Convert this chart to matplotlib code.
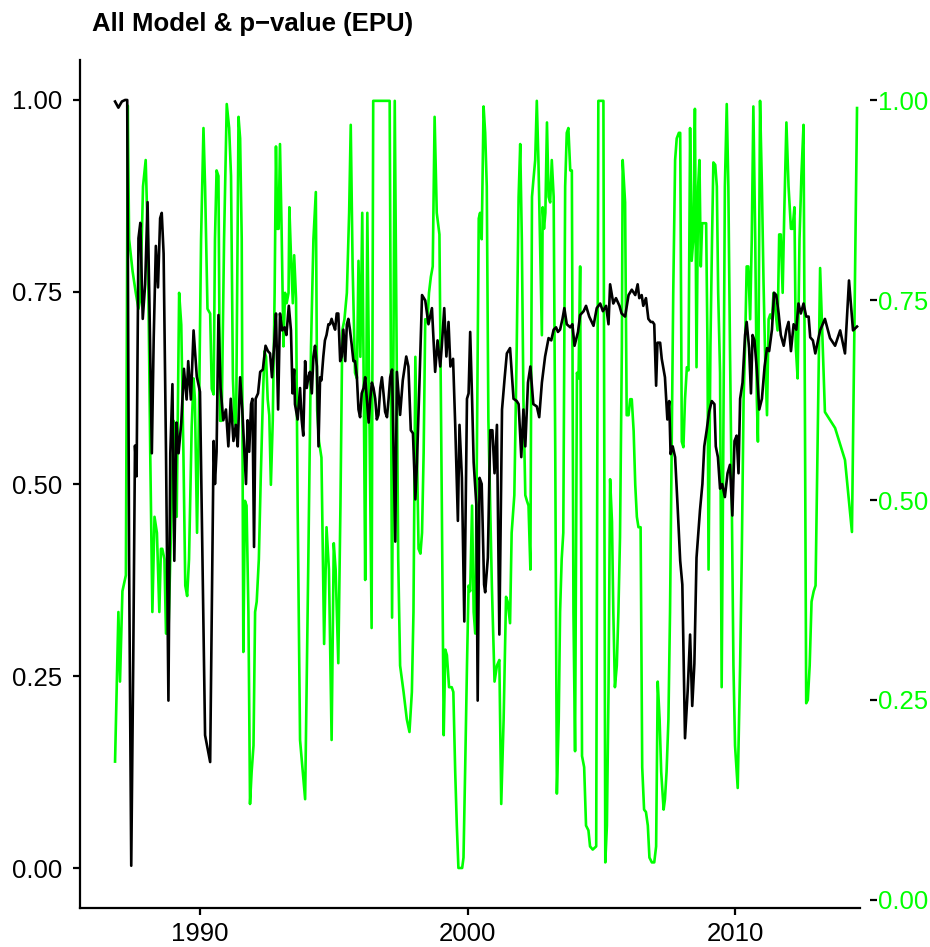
import matplotlib
matplotlib.use("Agg")
import matplotlib.pyplot as plt

# black line: model (left axis)
model_year = [
    1986.825, 1986.95, 1987.08, 1987.20, 1987.28, 1987.35, 1987.43, 1987.505, 1987.57, 1987.63,
    1987.70, 1987.77, 1987.86, 1987.95, 1988.04, 1988.11, 1988.20, 1988.27, 1988.35, 1988.43,
    1988.51, 1988.57, 1988.64, 1988.73, 1988.82, 1988.89, 1988.97, 1989.04, 1989.12, 1989.20,
    1989.30, 1989.40, 1989.50, 1989.56, 1989.66, 1989.76, 1989.88, 1990.00, 1990.19, 1990.38,
    1990.51, 1990.56, 1990.62, 1990.69, 1990.77, 1990.87, 1990.97, 1991.06, 1991.15, 1991.25,
    1991.34, 1991.41, 1991.50, 1991.58, 1991.66, 1991.72, 1991.78, 1991.84, 1991.91, 1991.96,
    1992.02, 1992.08, 1992.17, 1992.25, 1992.35, 1992.45, 1992.54, 1992.62, 1992.69, 1992.77,
    1992.84, 1992.92, 1992.99, 1993.07, 1993.16, 1993.23, 1993.32, 1993.40, 1993.46, 1993.52,
    1993.55, 1993.65, 1993.74, 1993.80, 1993.86, 1993.93, 1993.99, 1994.05, 1994.11, 1994.18,
    1994.24, 1994.30, 1994.37, 1994.43, 1994.49, 1994.54, 1994.61, 1994.67, 1994.73, 1994.80,
    1994.86, 1994.92, 1994.98, 1995.05, 1995.11, 1995.17, 1995.24, 1995.30, 1995.36, 1995.43,
    1995.49, 1995.545, 1995.605, 1995.675, 1995.735, 1995.795, 1995.865, 1995.925, 1995.985, 1996.045,
    1996.115, 1996.175, 1996.235, 1996.305, 1996.365, 1996.425, 1996.485, 1996.55, 1996.61, 1996.67,
    1996.74, 1996.80, 1996.86, 1996.92, 1996.99, 1997.05, 1997.11, 1997.18, 1997.30, 1997.36,
    1997.48, 1997.58, 1997.71, 1997.79, 1997.88, 1997.96, 1998.05, 1998.11, 1998.21, 1998.30,
    1998.42, 1998.54, 1998.67, 1998.79, 1998.88, 1998.98, 1999.04, 1999.13, 1999.21, 1999.29,
    1999.36, 1999.46, 1999.54, 1999.64, 1999.70, 1999.79, 1999.88, 1999.98, 2000.04, 2000.10,
    2000.17, 2000.23, 2000.33, 2000.38, 2000.45, 2000.53, 2000.62, 2000.66, 2000.76, 2000.85,
    2000.93, 2001.01, 2001.10, 2001.19, 2001.29, 2001.39, 2001.47, 2001.59, 2001.72, 2001.84,
    2001.91, 2002.01, 2002.09, 2002.16, 2002.26, 2002.35, 2002.46, 2002.59, 2002.68, 2002.78,
    2002.90, 2003.03, 2003.13, 2003.22, 2003.31, 2003.38, 2003.46, 2003.55, 2003.62, 2003.71,
    2003.84, 2003.92, 2004.00, 2004.05, 2004.13, 2004.21, 2004.34, 2004.43, 2004.55, 2004.71,
    2004.83, 2004.96, 2005.06, 2005.18, 2005.27, 2005.33, 2005.45, 2005.55, 2005.68, 2005.76,
    2005.89, 2006.02, 2006.14, 2006.27, 2006.36, 2006.42, 2006.51, 2006.57, 2006.67, 2006.76,
    2006.85, 2006.92, 2006.98, 2007.05, 2007.10, 2007.20, 2007.26, 2007.33, 2007.38, 2007.47,
    2007.54, 2007.59, 2007.67, 2007.76, 2007.85, 2007.95, 2008.03, 2008.13, 2008.23, 2008.32,
    2008.40, 2008.48, 2008.56, 2008.69, 2008.78, 2008.85, 2008.94, 2009.03, 2009.13, 2009.23,
    2009.28, 2009.36, 2009.44, 2009.52, 2009.62, 2009.72, 2009.81, 2009.90, 2009.98, 2010.06,
    2010.13, 2010.19, 2010.28, 2010.375, 2010.435, 2010.525, 2010.595, 2010.655, 2010.725, 2010.815,
    2010.905, 2011.005, 2011.105, 2011.195, 2011.275, 2011.38, 2011.46, 2011.54, 2011.63, 2011.71,
    2011.82, 2011.92, 2012.00, 2012.09, 2012.19, 2012.29, 2012.37, 2012.46, 2012.56, 2012.66,
    2012.75, 2012.81, 2012.91, 2013.00, 2013.18, 2013.36, 2013.55, 2013.74, 2013.93, 2014.11,
    2014.26, 2014.41, 2014.56,
]
model_val = [
    0.998, 0.99, 0.998, 1.0, 1.0, 0.40, 0.003, 0.27, 0.55, 0.51,
    0.82, 0.84, 0.715, 0.76, 0.867, 0.735, 0.54, 0.69, 0.81, 0.756,
    0.846, 0.853, 0.80, 0.54, 0.218, 0.54, 0.63, 0.40, 0.58, 0.54,
    0.58, 0.65, 0.61, 0.66, 0.61, 0.70, 0.64, 0.62, 0.173, 0.138,
    0.556, 0.50, 0.542, 0.72, 0.625, 0.583, 0.597, 0.549, 0.611, 0.556,
    0.577, 0.549, 0.639, 0.597, 0.542, 0.50, 0.583, 0.542, 0.604, 0.611,
    0.418, 0.611, 0.618, 0.646, 0.649, 0.68, 0.673, 0.67, 0.639, 0.68,
    0.722, 0.597, 0.722, 0.70, 0.704, 0.694, 0.732, 0.70, 0.618, 0.649,
    0.604, 0.584, 0.625, 0.584, 0.563, 0.66, 0.625, 0.639, 0.646, 0.618,
    0.666, 0.68, 0.653, 0.549, 0.639, 0.635, 0.666, 0.687, 0.694, 0.708,
    0.708, 0.715, 0.708, 0.701, 0.722, 0.722, 0.66, 0.666, 0.701, 0.66,
    0.708, 0.715, 0.701, 0.68, 0.66, 0.66, 0.639, 0.597, 0.587, 0.618,
    0.625, 0.639, 0.611, 0.58, 0.611, 0.632, 0.625, 0.611, 0.584, 0.59,
    0.625, 0.639, 0.618, 0.594, 0.587, 0.611, 0.639, 0.649, 0.425, 0.646,
    0.59, 0.635, 0.666, 0.653, 0.57, 0.566, 0.48, 0.528, 0.639, 0.746,
    0.739, 0.708, 0.729, 0.646, 0.687, 0.653, 0.68, 0.729, 0.666, 0.711,
    0.653, 0.663, 0.577, 0.452, 0.577, 0.508, 0.321, 0.611, 0.618, 0.698,
    0.611, 0.528, 0.473, 0.218, 0.508, 0.50, 0.369, 0.359, 0.404, 0.57,
    0.57, 0.514, 0.577, 0.304, 0.597, 0.639, 0.67, 0.677, 0.611, 0.608,
    0.604, 0.535, 0.597, 0.549, 0.632, 0.653, 0.604, 0.601, 0.587, 0.632,
    0.666, 0.69, 0.687, 0.701, 0.704, 0.698, 0.701, 0.715, 0.729, 0.708,
    0.704, 0.708, 0.68, 0.687, 0.698, 0.72, 0.725, 0.732, 0.718, 0.706,
    0.729, 0.735, 0.725, 0.732, 0.708, 0.76, 0.735, 0.742, 0.732, 0.722,
    0.718, 0.746, 0.753, 0.746, 0.76, 0.742, 0.746, 0.732, 0.742, 0.715,
    0.711, 0.711, 0.708, 0.628, 0.684, 0.684, 0.663, 0.649, 0.639, 0.584,
    0.608, 0.539, 0.549, 0.535, 0.473, 0.40, 0.369, 0.169, 0.231, 0.304,
    0.211, 0.266, 0.404, 0.466, 0.50, 0.549, 0.57, 0.594, 0.608, 0.604,
    0.549, 0.535, 0.494, 0.50, 0.483, 0.514, 0.525, 0.459, 0.556, 0.563,
    0.514, 0.611, 0.632, 0.694, 0.711, 0.677, 0.618, 0.694, 0.687, 0.649,
    0.597, 0.611, 0.653, 0.677, 0.673, 0.701, 0.749, 0.746, 0.722, 0.694,
    0.68, 0.701, 0.711, 0.673, 0.708, 0.701, 0.735, 0.722, 0.735, 0.718,
    0.718, 0.691, 0.687, 0.67, 0.70, 0.715, 0.69, 0.68, 0.70, 0.67,
    0.765, 0.70, 0.705,
]

# green line: p-value (right axis)
pval_year = [
    1986.825, 1986.95, 1987.01, 1987.10, 1987.23, 1987.30, 1987.35, 1987.48, 1987.60, 1987.70,
    1987.77, 1987.87, 1987.97, 1988.05, 1988.14, 1988.22, 1988.30, 1988.39, 1988.48, 1988.54,
    1988.59, 1988.67, 1988.73, 1988.82, 1988.89, 1988.94, 1989.01, 1989.07, 1989.13, 1989.22,
    1989.30, 1989.38, 1989.45, 1989.52, 1989.59, 1989.69, 1989.76, 1989.81, 1989.89, 1989.97,
    1990.04, 1990.13, 1990.19, 1990.28, 1990.38, 1990.44, 1990.51, 1990.56, 1990.62, 1990.69,
    1990.75, 1990.81, 1990.90, 1991.00, 1991.09, 1991.16, 1991.23, 1991.29, 1991.35, 1991.44,
    1991.50, 1991.56, 1991.62, 1991.68, 1991.74, 1991.81, 1991.87, 1991.93, 1992.00, 1992.06,
    1992.12, 1992.20, 1992.27, 1992.35, 1992.41, 1992.47, 1992.53, 1992.59, 1992.65, 1992.72,
    1992.79, 1992.84, 1992.89, 1992.94, 1992.99, 1993.05, 1993.12, 1993.18, 1993.24, 1993.31,
    1993.34, 1993.40, 1993.47, 1993.52, 1993.59, 1993.65, 1993.74, 1993.93, 1994.05, 1994.15,
    1994.24, 1994.33, 1994.38, 1994.45, 1994.54, 1994.64, 1994.73, 1994.82, 1994.92, 1995.00,
    1995.07, 1995.17, 1995.25, 1995.32, 1995.40, 1995.49, 1995.575, 1995.635, 1995.705, 1995.795,
    1995.865, 1995.925, 1995.995, 1996.065, 1996.125, 1996.175, 1996.255, 1996.325, 1996.415, 1996.475,
    1996.67, 1996.86, 1997.09, 1997.18, 1997.28, 1997.41, 1997.48, 1997.61, 1997.73, 1997.83,
    1997.92, 1997.98, 1998.05, 1998.11, 1998.17, 1998.24, 1998.30, 1998.36, 1998.42, 1998.50,
    1998.56, 1998.63, 1998.70, 1998.77, 1998.85, 1998.95, 1999.04, 1999.11, 1999.17, 1999.23,
    1999.31, 1999.41, 1999.47, 1999.54, 1999.60, 1999.66, 1999.72, 1999.80, 1999.85, 1999.91,
    1999.98, 2000.04, 2000.10, 2000.17, 2000.23, 2000.29, 2000.35, 2000.42, 2000.47, 2000.53,
    2000.60, 2000.66, 2000.72, 2000.78, 2000.91, 2001.01, 2001.10, 2001.19, 2001.26, 2001.35,
    2001.44, 2001.50, 2001.59, 2001.65, 2001.75, 2001.84, 2001.91, 2001.97, 2002.03, 2002.09,
    2002.16, 2002.22, 2002.28, 2002.35, 2002.41, 2002.46, 2002.53, 2002.59, 2002.65, 2002.71,
    2002.78, 2002.81, 2002.86, 2002.91, 2002.97, 2003.03, 2003.09, 2003.15, 2003.22, 2003.28,
    2003.34, 2003.41, 2003.46, 2003.52, 2003.58, 2003.65, 2003.71, 2003.77, 2003.84, 2003.90,
    2003.96, 2004.02, 2004.09, 2004.15, 2004.21, 2004.28, 2004.36, 2004.43, 2004.52, 2004.58,
    2004.68, 2004.81, 2004.89, 2004.98, 2005.08, 2005.15, 2005.21, 2005.27, 2005.33, 2005.40,
    2005.45, 2005.51, 2005.58, 2005.64, 2005.70, 2005.77, 2005.80, 2005.89, 2005.95, 2006.02,
    2006.08, 2006.14, 2006.21, 2006.27, 2006.33, 2006.39, 2006.47, 2006.53, 2006.60, 2006.67,
    2006.74, 2006.80, 2006.89, 2006.98, 2007.05, 2007.11, 2007.18, 2007.24, 2007.33, 2007.38,
    2007.44, 2007.51, 2007.57, 2007.63, 2007.69, 2007.76, 2007.82, 2007.90, 2007.95, 2008.01,
    2008.07, 2008.13, 2008.20, 2008.26, 2008.32, 2008.38, 2008.44, 2008.50, 2008.56, 2008.62,
    2008.67, 2008.72, 2008.77, 2008.83, 2008.92, 2008.97, 2009.01, 2009.08, 2009.14, 2009.19,
    2009.26, 2009.32, 2009.37, 2009.44, 2009.50, 2009.56, 2009.62, 2009.69, 2009.75, 2009.81,
    2009.88, 2009.94, 2010.00, 2010.10, 2010.19, 2010.25, 2010.32, 2010.375, 2010.435, 2010.495,
    2010.565, 2010.625, 2010.685, 2010.755, 2010.815, 2010.855, 2010.935, 2011.005, 2011.065, 2011.125,
    2011.195, 2011.255, 2011.315, 2011.38, 2011.44, 2011.50, 2011.59, 2011.65, 2011.71, 2011.78,
    2011.84, 2011.92, 2012.00, 2012.09, 2012.15, 2012.22, 2012.27, 2012.34, 2012.41, 2012.48,
    2012.56, 2012.61, 2012.66, 2012.72, 2012.79, 2012.86, 2012.94, 2013.01, 2013.18, 2013.36,
    2013.74, 2014.11, 2014.37, 2014.56,
]
pval_val = [
    0.173, 0.36, 0.273, 0.386, 0.406, 0.993, 0.826, 0.786, 0.759, 0.739,
    0.752, 0.892, 0.925, 0.826, 0.559, 0.36, 0.479, 0.459, 0.36, 0.439,
    0.439, 0.426, 0.333, 0.333, 0.426, 0.493, 0.599, 0.592, 0.479, 0.759,
    0.719, 0.559, 0.393, 0.38, 0.426, 0.592, 0.652, 0.626, 0.459, 0.626,
    0.826, 0.965, 0.892, 0.739, 0.733, 0.639, 0.632, 0.826, 0.912, 0.905,
    0.599, 0.599, 0.826, 0.995, 0.965, 0.905, 0.652, 0.599, 0.592, 0.979,
    0.952, 0.826, 0.31, 0.499, 0.493, 0.36, 0.12, 0.16, 0.193, 0.36,
    0.373, 0.426, 0.526, 0.626, 0.686, 0.679, 0.626, 0.606, 0.519, 0.599,
    0.759, 0.942, 0.839, 0.839, 0.945, 0.839, 0.692, 0.759, 0.746, 0.759,
    0.866, 0.806, 0.746, 0.806, 0.752, 0.493, 0.20, 0.126, 0.426, 0.692,
    0.826, 0.885, 0.612, 0.573, 0.553, 0.32, 0.466, 0.413, 0.20, 0.446,
    0.413, 0.296, 0.493, 0.712, 0.726, 0.759, 0.859, 0.969, 0.792, 0.659,
    0.652, 0.799, 0.679, 0.859, 0.626, 0.40, 0.859, 0.626, 0.34, 0.999,
    0.999, 0.999, 0.999, 0.353, 0.999, 0.426, 0.293, 0.26, 0.226, 0.21,
    0.26, 0.36, 0.679, 0.559, 0.439, 0.433, 0.459, 0.559, 0.726, 0.722,
    0.759, 0.779, 0.792, 0.979, 0.859, 0.832, 0.493, 0.206, 0.313, 0.306,
    0.266, 0.266, 0.26, 0.16, 0.093, 0.04, 0.04, 0.04, 0.053, 0.16,
    0.293, 0.393, 0.386, 0.493, 0.36, 0.333, 0.559, 0.852, 0.859, 0.826,
    0.992, 0.959, 0.892, 0.60, 0.393, 0.273, 0.293, 0.30, 0.12, 0.226,
    0.379, 0.373, 0.346, 0.459, 0.506, 0.692, 0.879, 0.945, 0.826, 0.626,
    0.506, 0.499, 0.493, 0.413, 0.879, 0.899, 0.925, 0.999, 0.925, 0.826,
    0.706, 0.866, 0.839, 0.859, 0.972, 0.879, 0.872, 0.925, 0.879, 0.559,
    0.133, 0.226, 0.36, 0.426, 0.459, 0.892, 0.959, 0.965, 0.912, 0.912,
    0.36, 0.186, 0.659, 0.652, 0.792, 0.18, 0.166, 0.093, 0.087, 0.067,
    0.063, 0.067, 0.999, 0.999, 0.999, 0.047, 0.093, 0.26, 0.526, 0.473,
    0.36, 0.266, 0.293, 0.36, 0.453, 0.692, 0.925, 0.872, 0.606, 0.606,
    0.626, 0.626, 0.586, 0.519, 0.479, 0.466, 0.466, 0.166, 0.113, 0.11,
    0.093, 0.053, 0.047, 0.047, 0.067, 0.273, 0.226, 0.16, 0.113, 0.126,
    0.16, 0.226, 0.36, 0.559, 0.759, 0.925, 0.952, 0.959, 0.959, 0.573,
    0.566, 0.626, 0.666, 0.662, 0.965, 0.799, 0.826, 0.989, 0.666, 0.892,
    0.925, 0.792, 0.846, 0.846, 0.846, 0.692, 0.413, 0.692, 0.826, 0.922,
    0.919, 0.892, 0.759, 0.659, 0.266, 0.559, 0.892, 0.995, 0.892, 0.692,
    0.493, 0.293, 0.193, 0.14, 0.293, 0.426, 0.626, 0.692, 0.792, 0.792,
    0.726, 0.826, 0.992, 0.826, 0.626, 0.573, 0.999, 0.892, 0.772, 0.679,
    0.606, 0.726, 0.732, 0.726, 0.759, 0.739, 0.712, 0.832, 0.832, 0.759,
    0.859, 0.972, 0.892, 0.839, 0.839, 0.866, 0.692, 0.652, 0.826, 0.905,
    0.969, 0.626, 0.246, 0.25, 0.293, 0.373, 0.386, 0.393, 0.79, 0.61,
    0.59, 0.55, 0.46, 0.99,
]

x_ticks = [1990, 2000, 2010]
y_ticks = [0.00, 0.25, 0.50, 0.75, 1.00]
green = "#00FF00"

plt.rcParams["font.family"] = ["Liberation Sans", "DejaVu Sans"]

fig = plt.figure(figsize=(9.3, 9.47), dpi=100)
ax = fig.add_axes([0.086, 0.0412, 0.8387, 0.8954])
ax2 = ax.twinx()

ax.plot(model_year, model_val, color="black", lw=1.9, solid_joinstyle="round")
ax2.plot(pval_year, pval_val, color=green, lw=1.9, solid_joinstyle="round")

# black line above green
ax.set_zorder(ax2.get_zorder() + 1)
ax.patch.set_visible(False)

ax.set_xlim(1985.514, 2014.67)
ax.set_ylim(-0.052, 1.052)
ax2.set_ylim(-0.01, 1.05)

ax.set_xticks(x_ticks)
ax.set_xticklabels([str(t) for t in x_ticks])
ax.set_yticks(y_ticks)
ax.set_yticklabels([f"{t:.2f}" for t in y_ticks])
ax2.set_yticks(y_ticks)
ax2.set_yticklabels([f"{t:.2f}" for t in y_ticks])

for s in ["top", "right"]:
    ax.spines[s].set_visible(False)
for s in ["top", "left", "bottom"]:
    ax2.spines[s].set_visible(False)
# right ticks sit a little outside the panel, no spine line
ax2.spines["right"].set_position(("outward", 7))
ax2.spines["right"].set_visible(False)
ax.spines["left"].set_linewidth(1.6)
ax.spines["bottom"].set_linewidth(1.6)

ax.tick_params(axis="y", length=5, width=1.6, labelsize=18.5, pad=8)
ax.tick_params(axis="x", length=5, width=1.6, labelsize=18.5, pad=5)
ax2.tick_params(axis="y", length=5, width=1.6, labelsize=18.5, pad=1,
                colors="black", labelcolor=green)

fig.text(0.099, 0.967, "All Model & p\u2212value (EPU)", fontsize=18.5,
         fontweight="bold", ha="left", va="baseline")

fig.savefig("out.png", dpi=100)
